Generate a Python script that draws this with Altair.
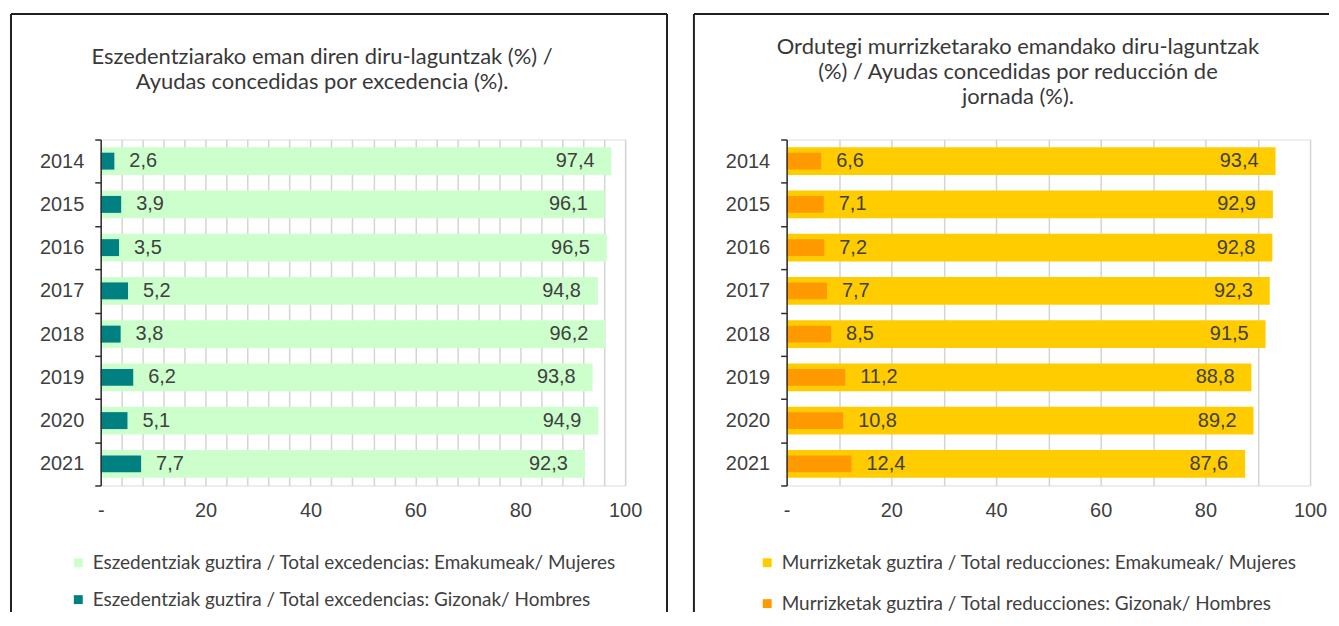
import altair as alt
import pandas as pd

years = ["2014", "2015", "2016", "2017", "2018", "2019", "2020", "2021"]
exc_women = [97.4, 96.1, 96.5, 94.8, 96.2, 93.8, 94.9, 92.3]
exc_men = [2.6, 3.9, 3.5, 5.2, 3.8, 6.2, 5.1, 7.7]
red_women = [93.4, 92.9, 92.8, 92.3, 91.5, 88.8, 89.2, 87.6]
red_men = [6.6, 7.1, 7.2, 7.7, 8.5, 11.2, 10.8, 12.4]

left_title = ["Eszedentziarako eman diren diru-laguntzak (%) /",
              "Ayudas concedidas por excedencia (%)."]
right_title = ["Ordutegi murrizketarako emandako diru-laguntzak",
               "(%) / Ayudas concedidas por reducción de",
               "jornada (%)."]
left_series = ["Eszedentziak guztira / Total excedencias: Emakumeak/ Mujeres",
               "Eszedentziak guztira / Total excedencias: Gizonak/ Hombres"]
right_series = ["Murrizketak guztira / Total reducciones: Emakumeak/ Mujeres",
                "Murrizketak guztira / Total reducciones: Gizonak/ Hombres"]
left_colors = ["#CCFFCC", "#008080"]
right_colors = ["#FFCC00", "#FF9900"]
left_grid = list(range(0, 101, 4))
right_grid = list(range(0, 101, 10))

NUM_FONT = "Liberation Sans"
TXT_FONT = "Lato"
TXT_COLOR = "#404040"
H = 347


def fmt(v):
    return f"{v:.1f}".replace(".", ",")


def make_df(values, serie):
    return pd.DataFrame({"year": years, "value": values, "serie": serie,
                         "label": [fmt(v) for v in values]})


def panel(women, men, series, colors, title, grid, width, title_x, title_y,
          legend_x, legend_row_pad, border_left, border_right, border_top, border_bottom,
          right_side=True):
    dfw = make_df(women, series[0])
    dfm = make_df(men, series[1])

    y_enc = alt.Y("year:N", sort=years, title=None,
                  scale=alt.Scale(paddingInner=0, paddingOuter=0),
                  axis=alt.Axis(labelFont=NUM_FONT, labelFontSize=20, labelColor=TXT_COLOR,
                                tickBand="extent", ticks=True, tickSize=6, tickColor="#303030",
                                tickWidth=1.5, domainColor="#303030", domainWidth=1.5,
                                labelPadding=11, grid=False, zindex=1))
    x_enc = alt.X("value:Q", title=None,
                  scale=alt.Scale(domain=[0, 100], nice=False),
                  axis=alt.Axis(values=grid, grid=True, gridColor="#d4d4d4", gridWidth=1.5,
                                ticks=False, domain=False, labelFlush=False, labelOverlap=False,
                                labelFont=NUM_FONT, labelFontSize=20, labelColor=TXT_COLOR,
                                labelPadding=15,
                                labelExpr="datum.value == 0 ? '-' : (datum.value % 20 == 0 ? datum.label : '')"))
    color_enc = alt.Color("serie:N",
                          scale=alt.Scale(domain=series, range=colors),
                          legend=alt.Legend(title=None, orient="none", legendX=legend_x, legendY=415,
                                            direction="vertical", symbolType="square", symbolSize=80,
                                            symbolStrokeWidth=0, labelFont=TXT_FONT, labelFontSize=19,
                                            labelColor=TXT_COLOR, rowPadding=legend_row_pad,
                                            labelOffset=5, padding=0, labelLimit=800))

    women_bar = alt.Chart(dfw).mark_bar(size=28).encode(y=y_enc, x=x_enc, color=color_enc)
    men_bar = alt.Chart(dfm).mark_bar(size=17).encode(y=y_enc, x=x_enc, color=color_enc)
    women_txt = alt.Chart(dfw).mark_text(align="right", dx=-17, font=NUM_FONT, fontSize=20,
                                         color=TXT_COLOR).encode(y=y_enc, x=x_enc, text="label:N")
    men_txt = alt.Chart(dfm).mark_text(align="left", dx=15, font=NUM_FONT, fontSize=20,
                                       color=TXT_COLOR).encode(y=y_enc, x=x_enc, text="label:N")

    one = alt.Data(values=[{"k": 1}])
    title_data = alt.Data(values=[{"t": "\n".join(title)}])
    layers = [
        alt.Chart(one).mark_rule(color="#202020", strokeWidth=2).encode(
            x=alt.value(border_left), y=alt.value(border_top), y2=alt.value(border_bottom)),
        alt.Chart(one).mark_rule(color="#202020", strokeWidth=2).encode(
            x=alt.value(border_left), x2=alt.value(border_right), y=alt.value(border_top)),
    ]
    if right_side:
        layers.append(alt.Chart(one).mark_rule(color="#202020", strokeWidth=2).encode(
            x=alt.value(border_right), y=alt.value(border_top), y2=alt.value(border_bottom)))
    layers.append(
        alt.Chart(title_data).mark_text(font=TXT_FONT, fontSize=22, color="#383838",
                                        align="center", baseline="middle", lineBreak="\n",
                                        lineHeight=25).encode(
            x=alt.value(title_x), y=alt.value(title_y), text="t:N"))
    layers += [women_bar, men_bar, women_txt, men_txt]

    return alt.layer(*layers).properties(width=width, height=H)


left = panel(exc_women, exc_men, left_series, left_colors, left_title, left_grid,
             width=526, title_x=222, title_y=-83, legend_x=-32, legend_row_pad=17,
             border_left=-90, border_right=568, border_top=-126, border_bottom=474,
             right_side=True)
right = panel(red_women, red_men, right_series, right_colors, right_title, right_grid,
              width=525, title_x=232, title_y=-93, legend_x=-29, legend_row_pad=21,
              border_left=-93, border_right=544, border_top=-126, border_bottom=474,
              right_side=False)

chart = alt.hconcat(left, right, spacing=23).resolve_scale(
    color="independent", x="independent", y="independent"
).properties(
    padding={"left": 1, "top": 3, "right": 0, "bottom": 0}
).configure_view(stroke=None).configure(background="white")

chart.save("out.html", embed_options={"renderer": "svg", "actions": False})
